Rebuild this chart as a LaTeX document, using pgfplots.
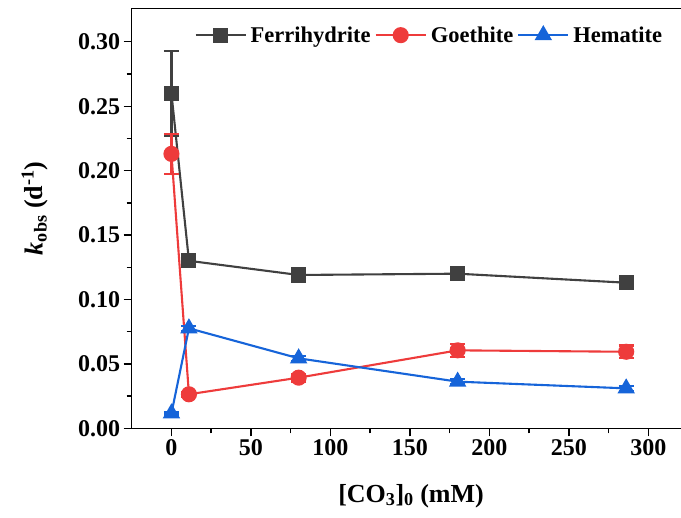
\documentclass[border=0pt]{standalone}
\usepackage{fontspec}
\setmainfont{Liberation Serif}
\usepackage{pgfplots}
\pgfplotsset{compat=1.18}
\definecolor{cFe}{HTML}{404040}
\definecolor{cGo}{HTML}{EE3B3B}
\definecolor{cHe}{HTML}{1664D9}
\begin{document}
\begin{tikzpicture}
\useasboundingbox (-131.7pt,-89.7pt) rectangle (549.3pt,428.3pt);
\begin{axis}[
  at={(0pt,0pt)}, anchor=south west,
  width=556.5pt, height=420pt, scale only axis,
  xmin=-25, xmax=325, ymin=0, ymax=0.326,
  xtick={0,50,100,150,200,250,300},
  ytick={0,0.05,0.10,0.15,0.20,0.25,0.30},
  minor x tick num=1, minor y tick num=1,
  xtick pos=left, ytick pos=left,
  tick align=outside,
  major tick length=8pt, minor tick length=5pt,
  every tick/.style={black, line width=1.4pt},
  axis line style={line width=1.5pt},
  tick label style={font=\fontsize{24}{24}\selectfont\bfseries},
  /pgf/number format/assume math mode=true,
  yticklabel style={/pgf/number format/.cd, fixed, fixed zerofill, precision=2, assume math mode=true},
  xticklabel style={/pgf/number format/assume math mode=true},
  xlabel={\textbf{[CO\textsubscript{3}]\textsubscript{0} (mM)}},
  ylabel={\textbf{\textit{k}\textsubscript{obs} (d\textsuperscript{-1})}},
  label style={font=\fontsize{26}{26}\selectfont},
  xlabel style={at={(axis description cs:0.502,-0.161)}, anchor=center},
  ylabel style={at={(axis description cs:-0.174,0.524)}, anchor=center, rotate=0},
  legend columns=3,
  legend style={at={(axis description cs:0.957,0.936)}, anchor=east, draw=none, fill=none,
    inner sep=0pt, font=\fontsize{22.5}{22.5}\selectfont\bfseries,
    /tikz/every odd column/.append style={column sep=2pt},
    /tikz/every even column/.append style={column sep=2pt}},
  legend image code/.code={\draw[mark repeat=2,mark phase=2] plot coordinates {(0pt,0pt) (25pt,0pt) (50pt,0pt)};},
  error bars/y dir=both, error bars/y explicit,
]
\addplot[cFe, line width=2.1pt, mark=square*, mark size=6.5pt,
  error bars/error bar style={line width=2.4pt},
  error bars/error mark options={rotate=90, mark size=7.5pt, line width=2.4pt}]
  coordinates {(0,0.260) +- (0,0.033) (11,0.130) +- (0,0.002) (80,0.119) +- (0,0.002) (180,0.120) +- (0,0.003) (286,0.113) +- (0,0.003)};
\addlegendentry{Ferrihydrite}
\addplot[cGo, line width=2.1pt, mark=*, mark size=7pt,
  error bars/error bar style={line width=2.4pt},
  error bars/error mark options={rotate=90, mark size=7.5pt, line width=2.4pt}]
  coordinates {(0,0.213) +- (0,0.0155) (11,0.0264) +- (0,0.002) (80,0.0393) +- (0,0.003) (180,0.0605) +- (0,0.005) (286,0.0594) +- (0,0.005)};
\addlegendentry{Goethite}
\addplot[cHe, line width=2.1pt, mark=triangle*, mark size=8pt,
  error bars/error bar style={line width=2.4pt},
  error bars/error mark options={rotate=90, mark size=7.5pt, line width=2.4pt}]
  coordinates {(0,0.0116) +- (0,0.001) (11,0.0776) +- (0,0.002) (80,0.0543) +- (0,0.002) (180,0.0362) +- (0,0.002) (286,0.031) +- (0,0.002)};
\addlegendentry{Hematite}
\end{axis}
\end{tikzpicture}
\end{document}
